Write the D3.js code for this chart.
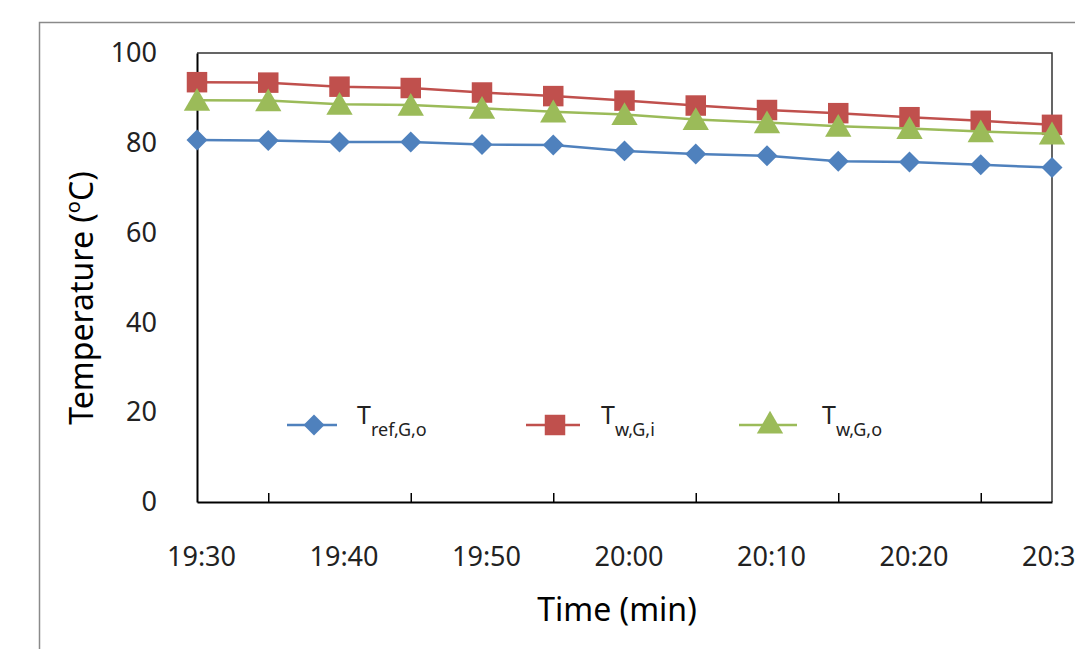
<!DOCTYPE html>
<html>
<head>
<meta charset="utf-8">
<script src="https://cdn.jsdelivr.net/npm/d3@7"></script>
<style>
  body { margin: 0; background: #fff; }
  svg { display: block; font-family: "Noto Sans", "Open Sans", sans-serif; }
</style>
</head>
<body>
<svg id="chart" width="1075" height="649"></svg>
<script>
// minutes after 19:30, one reading every 5 min
var minutes = [0, 5, 10, 15, 20, 25, 30, 35, 40, 45, 50, 55, 60];
var tickLabels = ["19:30", "19:40", "19:50", "20:00", "20:10", "20:20", "20:30"];
var labelMinutes = [0, 10, 20, 30, 40, 50, 60];
var tickMarkMinutes = [5, 15, 25, 35, 45, 55];
var yTicks = [0, 20, 40, 60, 80, 100];

var tRefGo = [80.6, 80.5, 80.2, 80.2, 79.6, 79.5, 78.2, 77.5, 77.1, 75.9, 75.7, 75.1, 74.5];
var tWGi   = [93.5, 93.4, 92.5, 92.2, 91.2, 90.4, 89.4, 88.3, 87.3, 86.6, 85.7, 84.9, 84.0];
var tWGo   = [89.5, 89.4, 88.6, 88.4, 87.7, 86.9, 86.3, 85.2, 84.5, 83.7, 83.2, 82.5, 82.0];

var svg = d3.select("#chart");

var plotLeft = 197, plotRight = 1052, plotTop = 53, plotBottom = 502;

var x = d3.scaleLinear().domain([0, 60]).range([plotLeft, plotRight]);
var y = d3.scaleLinear().domain([0, 100]).range([plotBottom, plotTop]);

// outer chart frame (runs off the picture to the right and bottom)
svg.append("rect")
    .attr("x", 39.5).attr("y", 22.5)
    .attr("width", 1100).attr("height", 700)
    .style("fill", "none")
    .style("stroke", "#8a8a8a")
    .style("stroke-width", 1.5);

// plot area border top / right
svg.append("path")
    .attr("d", "M " + plotLeft + " " + plotTop + " H " + plotRight + " V " + plotBottom)
    .style("fill", "none")
    .style("stroke", "#333")
    .style("stroke-width", 1.5);

// y axis
var yAxis = svg.append("g")
    .attr("transform", "translate(" + plotLeft + ",0)")
    .call(d3.axisLeft(y).tickValues(yTicks).tickSize(0).tickPadding(40));
yAxis.select(".domain").style("stroke", "#000").style("stroke-width", 2);
yAxis.selectAll("text").style("font-size", "27px").style("fill", "#222")
    .style("font-family", "'Noto Sans', sans-serif");

// x axis: inner tick marks between labels
var xTickAxis = svg.append("g")
    .attr("transform", "translate(0," + plotBottom + ")")
    .call(d3.axisBottom(x).tickValues(tickMarkMinutes).tickSizeInner(-9).tickSizeOuter(0).tickFormat(""));
xTickAxis.select(".domain").style("stroke", "#000").style("stroke-width", 2);
xTickAxis.selectAll(".tick line").style("stroke", "#000").style("stroke-width", 1.5);

// x axis labels
var xLabelAxis = svg.append("g")
    .attr("transform", "translate(4," + plotBottom + ")")
    .call(d3.axisBottom(x).tickValues(labelMinutes).tickSize(0).tickPadding(45)
        .tickFormat(function(d, i) { return tickLabels[i]; }));
xLabelAxis.select(".domain").remove();
xLabelAxis.selectAll("text").style("font-size", "27px").style("fill", "#222")
    .style("font-family", "'Noto Sans', sans-serif");

// axis titles
var yTitle = svg.append("text")
    .attr("transform", "translate(93,298) rotate(-90)")
    .attr("text-anchor", "middle")
    .style("font-size", "32px")
    .style("fill", "#000");
yTitle.append("tspan").text("Temperature (");
yTitle.append("tspan").attr("baseline-shift", "super").style("font-size", "20px").text("o");
yTitle.append("tspan").text("C)");

svg.append("text")
    .attr("x", 617).attr("y", 621)
    .attr("text-anchor", "middle")
    .style("font-size", "32px")
    .style("fill", "#000")
    .text("Time (min)");

var series = [
    { name: "ref,G,o", values: tRefGo, color: "#4F81BD", symbol: d3.symbolSquare, size: 220, rot: 45, dy: 0, lx: 287, lw: 50, tx: 357 },
    { name: "w,G,i",   values: tWGi,   color: "#C0504D", symbol: d3.symbolSquare, size: 420, rot: 0, dy: 0, lx: 526, lw: 54, tx: 601 },
    { name: "w,G,o",   values: tWGo,   color: "#9BBB59", symbol: d3.symbolTriangle, size: 300, rot: 0, dy: 3, lx: 739, lw: 58, tx: 822 }
];

var line = d3.line()
    .x(function(d, i) { return x(minutes[i]); })
    .y(function(d) { return y(d); });

series.forEach(function(s) {
    svg.append("path")
        .datum(s.values)
        .attr("d", line)
        .style("fill", "none")
        .style("stroke", s.color)
        .style("stroke-width", 2.5);

    svg.selectAll(null)
        .data(s.values)
        .enter()
        .append("path")
        .attr("d", d3.symbol().type(s.symbol).size(s.size))
        .attr("transform", function(d, i) {
            return "translate(" + x(minutes[i]) + "," + (y(d) + s.dy) + ") rotate(" + s.rot + ")";
        })
        .style("fill", s.color);
});

// legend
var legendY = 425;
series.forEach(function(s) {
    var g = svg.append("g");
    g.append("line")
        .attr("x1", s.lx).attr("x2", s.lx + s.lw)
        .attr("y1", legendY).attr("y2", legendY)
        .style("stroke", s.color)
        .style("stroke-width", 2.5);
    g.append("path")
        .attr("d", d3.symbol().type(s.symbol).size(s.size))
        .attr("transform", "translate(" + (s.lx + s.lw / 2 + 2) + "," + (legendY + s.dy / 3) + ") rotate(" + s.rot + ")")
        .style("fill", s.color);
    var t = g.append("text")
        .attr("x", s.tx).attr("y", legendY - 1)
        .style("font-size", "25px")
        .style("fill", "#222");
    t.append("tspan").text("T");
    t.append("tspan").attr("dy", 12).style("font-size", "18px").text(s.name);
});
</script>
</body>
</html>
